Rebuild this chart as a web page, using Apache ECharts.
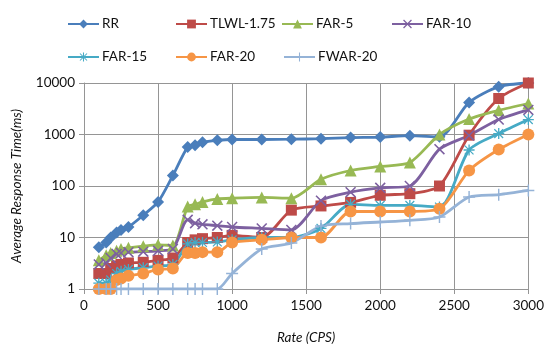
<!DOCTYPE html>
<html>
<head>
<meta charset="utf-8">
<script src="https://cdn.jsdelivr.net/npm/echarts@6/dist/echarts.min.js"></script>
<style>
    html, body { margin: 0; padding: 0; background: #fff; }
    #chart { width: 547px; height: 350px; }
</style>
</head>
<body>
<div id="chart"></div>
<script>
    // rate (CPS) on x, response time (ms) on y
    const rates = [100, 150, 180, 220, 250, 300, 400, 500, 600, 700, 750, 800, 900, 1000, 1200, 1400, 1600, 1800, 2000, 2200, 2400, 2600, 2800, 3000]

    const rr     = [6.5, 8, 10, 12.5, 14, 16, 27, 49, 160, 570, 620, 710, 770, 800, 800, 810, 830, 870, 890, 950, 900, 4200, 8500, 10000]
    const tlwl   = [2, 2, 2.5, 2.8, 3, 3.2, 3.3, 3.6, 4, 8, 9, 9.5, 10, 11, 10, 34, 41, 48, 66, 71, 100, 970, 5000, 10000]
    const far5   = [3.6, 4.5, 5, 5.5, 6, 6.3, 6.8, 7.2, 7, 40, 44, 49, 56, 58, 60, 58, 135, 200, 240, 285, 1000, 2000, 2950, 4000]
    const far10  = [3, 3.2, 4, 4.8, 5, 5.2, 5.3, 5.5, 6, 22, 19, 18, 17, 16, 15, 14, 52, 76, 92, 100, 520, 960, 1950, 3000]
    const far15  = [1.3, 1.3, 1.5, 2, 2.2, 2.4, 2.6, 2.8, 3, 7.5, 8, 8, 8.2, 9, 10, 10, 15, 44, 42, 42, 39, 500, 1040, 1950]
    const far20  = [1, 1, 1, 1.5, 1.6, 1.8, 2, 2.4, 2.5, 5, 5, 5.2, 5.2, 8, 9, 10, 10, 32, 32, 32, 36, 200, 510, 1000]
    const fwar20 = [1, 1, 1, 1, 1, 1, 1, 1, 1, 1, 1, 1, 1, 2, 6, 7.8, 16.7, 18.6, 20, 21.6, 25, 61, 68, 82]

    const xTicks = [0, 500, 1000, 1500, 2000, 2500, 3000]
    const yTicks = [1, 10, 100, 1000, 10000]

    const pair = (vals) => rates.map((r, i) => [r, vals[i]])

    // thin stroke-like symbols as filled outlines
    const xMark = 'path://M0,1L1,0L10,9L9,10Z M9,0L10,1L1,10L0,9Z'
    const plusMark = 'path://M4.4,0H5.6V10H4.4Z M0,4.4H10V5.6H0Z'
    const starMark = 'path://M4.4,0H5.6V10H4.4Z M0,4.4H10V5.6H0Z M0.6,1.4L1.4,0.6L9.4,8.6L8.6,9.4Z M8.6,0.6L9.4,1.4L1.4,9.4L0.6,8.6Z'

    const series = [
        { name: 'RR', vals: rr, color: '#4a7ebb', symbol: 'diamond', size: 12 },
        { name: 'TLWL-1.75', vals: tlwl, color: '#be4b48', symbol: 'rect', size: 11 },
        { name: 'FAR-5', vals: far5, color: '#98b954', symbol: 'triangle', size: 12 },
        { name: 'FAR-10', vals: far10, color: '#7d60a0', symbol: xMark, size: 11 },
        { name: 'FAR-15', vals: far15, color: '#46aac5', symbol: starMark, size: 11 },
        { name: 'FAR-20', vals: far20, color: '#f69545', symbol: 'circle', size: 12 },
        { name: 'FWAR-20', vals: fwar20, color: '#95b3d7', symbol: plusMark, size: 12 }
    ]

    const legendPos = [[62, 12], [170, 12], [276, 12], [386, 12], [62, 45], [170, 45], [278, 45]]

    const font = 'Lato, "DejaVu Sans", sans-serif'
    const gridColor = '#959595'

    const mychart = echarts.init(document.getElementById('chart'))
    mychart.setOption({
        animation: false,
        textStyle: { fontFamily: font },
        legend: series.map((s, i) => ({
            data: [s.name],
            left: legendPos[i][0],
            top: legendPos[i][1],
            itemWidth: 31,
            itemHeight: 11,
            itemGap: 0,
            textStyle: { color: '#111', fontSize: 13.5, fontFamily: font, padding: [0, 0, 0, -2] }
        })),
        grid: { left: 84, right: 17, top: 83, bottom: 61 },
        xAxis: {
            type: 'value',
            min: 0,
            max: 3000,
            interval: 500,
            name: 'Rate (CPS)',
            nameLocation: 'middle',
            nameGap: 42,
            nameTextStyle: { fontStyle: 'italic', fontSize: 13.5, color: '#111' },
            axisLine: { show: true, lineStyle: { color: gridColor } },
            axisTick: { show: true, length: 5, lineStyle: { color: gridColor } },
            axisLabel: {
                color: '#111', fontSize: 13.5, margin: 10,
                customValues: xTicks,
                formatter: v => String(Math.round(v))
            },
            splitLine: { show: true, lineStyle: { color: gridColor } }
        },
        yAxis: {
            type: 'log',
            logBase: 10,
            min: yTicks[0],
            max: yTicks[yTicks.length - 1],
            name: 'Average Response Time(ms)',
            nameLocation: 'middle',
            nameGap: 60,
            nameTextStyle: { fontStyle: 'italic', fontSize: 13.5, color: '#111' },
            axisLine: { show: true, lineStyle: { color: gridColor } },
            axisTick: { show: true, length: 5, lineStyle: { color: gridColor } },
            axisLabel: { color: '#111', fontSize: 13.5, margin: 9, formatter: v => String(Math.round(v)) },
            splitLine: { show: true, lineStyle: { color: gridColor } }
        },
        series: series.map(s => ({
            name: s.name,
            type: 'line',
            data: pair(s.vals),
            smooth: 0.25,
            symbol: s.symbol,
            symbolSize: s.size,
            showAllSymbol: true,
            color: s.color,
            lineStyle: { color: s.color, width: 2.8 },
            itemStyle: { color: s.color, borderWidth: 0 }
        }))
    })
</script>
</body>
</html>
